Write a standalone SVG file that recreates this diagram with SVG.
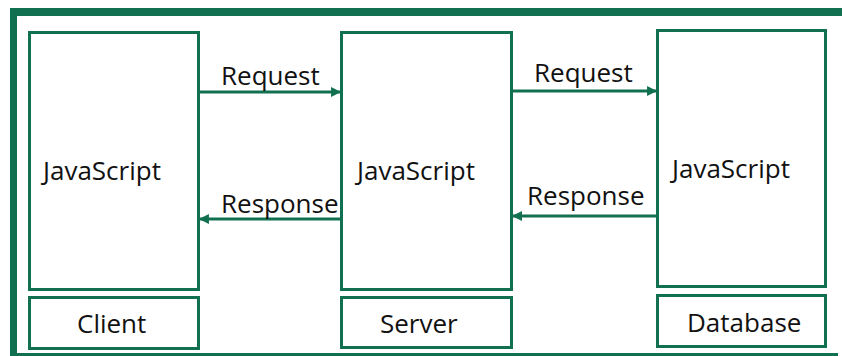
<svg xmlns="http://www.w3.org/2000/svg" width="842" height="356" viewBox="0 0 842 356">
<defs>
<style>
.box{fill:#fff;stroke:#107050;stroke-width:3}
.t{font-family:"Open Sans","Liberation Sans",sans-serif;font-size:26px;fill:#111}
.c{stroke:#107050;stroke-width:3;fill:none}
</style>
<marker id="ah" viewBox="0 0 10 10" refX="9" refY="5" markerWidth="3.3" markerHeight="3.3" orient="auto" markerUnits="strokeWidth">
<path d="M0,0 L10,5 L0,10 Z" fill="#107050"/>
</marker>
</defs>
<rect width="842" height="356" fill="#fff"/>
<g id="frame" fill="#107050">
<rect x="10" y="8" width="832" height="8"/>
<rect x="10" y="8" width="7" height="348"/>
<rect x="10" y="353" width="828" height="3"/>
</g>
<g id="client">
<rect class="box" x="29.5" y="32.5" width="169" height="257"/>
<text class="t" x="43" y="180">JavaScript</text>
</g>
<g id="client-label">
<rect class="box" x="29.5" y="297.5" width="169" height="51"/>
<text class="t" x="77" y="333">Client</text>
</g>
<g id="server">
<rect class="box" x="341.5" y="32.5" width="170" height="257"/>
<text class="t" x="357" y="180">JavaScript</text>
</g>
<g id="server-label">
<rect class="box" x="341.5" y="297.5" width="170" height="50"/>
<text class="t" x="380" y="333">Server</text>
</g>
<g id="database">
<rect class="box" x="657.5" y="30.5" width="168" height="256"/>
<text class="t" x="672" y="178">JavaScript</text>
</g>
<g id="database-label">
<rect class="box" x="657.5" y="295.5" width="168" height="51"/>
<text class="t" x="687" y="332">Database</text>
</g>
<g id="connectors">
<line class="c" x1="199" y1="92" x2="340" y2="92" marker-end="url(#ah)"/>
<line class="c" x1="341" y1="219" x2="200" y2="219" marker-end="url(#ah)"/>
<line class="c" x1="512" y1="91" x2="656" y2="91" marker-end="url(#ah)"/>
<line class="c" x1="657" y1="216" x2="513" y2="216" marker-end="url(#ah)"/>
<text class="t" x="221" y="85">Request</text>
<text class="t" x="221" y="213">Response</text>
<text class="t" x="534" y="82">Request</text>
<text class="t" x="527" y="205">Response</text>
</g>
</svg>
